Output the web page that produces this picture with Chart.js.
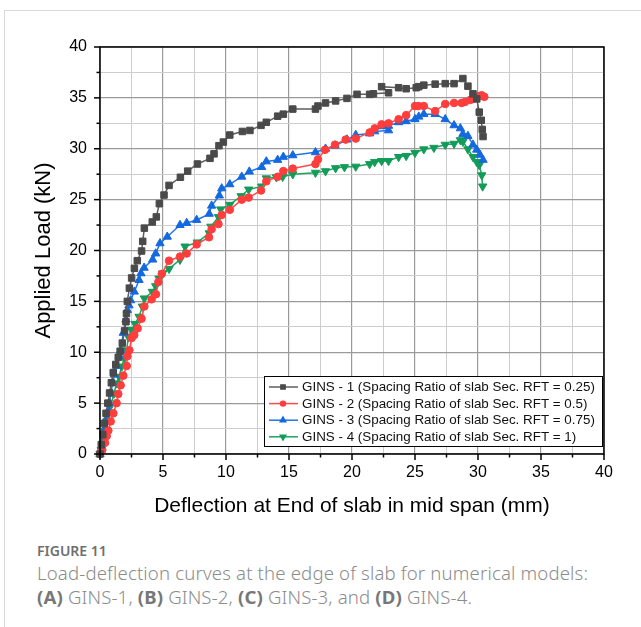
<!DOCTYPE html>
<html>
<head>
<meta charset="utf-8">
<script src="https://cdn.jsdelivr.net/npm/chart.js@4.4.1/dist/chart.umd.min.js"></script>
<style>
  html, body { margin: 0; padding: 0; background: #fff; }
  body { width: 641px; height: 627px; position: relative; overflow: hidden; }
  #card { position: absolute; left: 4px; top: 10px; width: 700px; height: 700px;
          border-left: 1px solid #d9d9d9; border-top: 1px solid #d9d9d9; }
  #wrap { position: absolute; left: 0; top: 0; width: 641px; height: 530px; }
  #cap { position: absolute; left: 37px; top: 541px; font-family: "Noto Sans", "Open Sans", sans-serif; }
  #cap .fig { font-size: 14px; font-weight: 600; color: #6f6f6f; line-height: 20px; }
  #cap .txt { font-size: 18.6px; font-weight: 300; color: #8c8c8c; line-height: 24px; letter-spacing: 0.15px; white-space: nowrap; }
  #cap b { color: #777; font-weight: 700; }
</style>
</head>
<body>
<div id="card"></div>
<div id="wrap"><canvas id="loadChart" width="641" height="530"></canvas></div>
<div id="cap">
  <div class="fig">FIGURE 11</div>
  <div class="txt">Load-deflection curves at the edge of slab for numerical models:<br><b>(A)</b> GINS-1, <b>(B)</b> GINS-2, <b>(C)</b> GINS-3, and <b>(D)</b> GINS-4.</div>
</div>
<script>
// Series labels
const seriesLabels = [
    "GINS - 1 (Spacing Ratio of slab Sec. RFT = 0.25)",
    "GINS - 2 (Spacing Ratio of slab Sec. RFT = 0.5)",
    "GINS - 3 (Spacing Ratio of slab Sec. RFT = 0.75)",
    "GINS - 4 (Spacing Ratio of slab Sec. RFT = 1)"
];

// Deflection (mm) and load (kN)
const gins1X = [0, 0.1, 0.22, 0.35, 0.48, 0.62, 0.76, 0.9, 1.05, 1.25, 1.45, 1.6, 1.77, 1.95, 2.06, 2.1, 2.17, 2.33, 2.51, 2.73, 2.96, 3.3, 3.39, 3.52, 4.15, 4.47, 4.71, 5.08, 5.48, 6.38, 6.96, 7.73, 8.73, 9.05, 9.44, 9.79, 10.3, 11.3, 11.9, 12.78, 13.2, 14.1, 14.55, 15.3, 17.1, 17.3, 17.9, 18.7, 19.6, 20.4, 21.4, 21.7, 22.9, 22.35, 23.7, 24.3, 25.1, 25.3, 25.7, 26.6, 27.4, 28.1, 28.8, 29.2, 29.6, 29.9, 30.1, 30.26, 30.34, 30.4];
const gins1Y = [0, 0.9, 1.9, 3.0, 4.0, 5.0, 6.0, 7.0, 8.0, 8.8, 9.5, 10.1, 10.9, 12.1, 13.0, 13.8, 15.0, 16.3, 17.3, 18.25, 19.0, 19.95, 20.9, 22.2, 22.8, 23.3, 24.6, 25.45, 26.4, 27.2, 27.8, 28.5, 29.06, 29.5, 30.3, 30.66, 31.35, 31.7, 31.8, 32.3, 32.6, 33.2, 33.4, 33.9, 33.9, 34.2, 34.5, 34.7, 34.95, 35.35, 35.35, 35.4, 35.5, 36.1, 36.0, 35.9, 36.0, 36.1, 36.25, 36.35, 36.4, 36.4, 36.9, 36.15, 35.4, 34.9, 33.6, 32.8, 31.9, 31.2];

const gins2X = [0, 0.18, 0.4, 0.53, 0.66, 0.85, 1.06, 1.32, 1.45, 1.64, 1.85, 2.12, 2.17, 2.33, 2.51, 2.72, 2.99, 3.3, 3.52, 4.1, 4.44, 4.63, 4.9, 5.48, 6.35, 6.88, 7.67, 8.65, 8.86, 9.4, 9.66, 10.3, 11.25, 11.8, 12.78, 13.2, 14.1, 14.55, 15.3, 17.1, 17.3, 17.86, 18.65, 19.5, 20.3, 21.4, 21.8, 22.35, 22.9, 23.7, 24.3, 25.0, 25.26, 25.7, 26.6, 27.4, 28.1, 28.7, 28.97, 29.4, 29.7, 29.95, 30.16, 30.3, 30.5];
const gins2Y = [0, 0.4, 1.1, 1.77, 2.3, 3.2, 4.0, 5.0, 5.9, 6.75, 7.7, 8.65, 9.6, 10.2, 11.4, 11.7, 12.35, 13.3, 14.5, 15.2, 15.7, 16.9, 17.7, 19.0, 19.4, 19.7, 20.6, 21.3, 22.1, 22.6, 23.5, 24.0, 25.0, 25.2, 25.9, 26.8, 27.25, 27.8, 28.05, 28.5, 28.96, 29.9, 30.4, 30.9, 31.0, 31.6, 32.0, 32.4, 32.5, 32.9, 33.3, 34.2, 34.2, 34.2, 33.7, 34.4, 34.5, 34.5, 34.6, 34.8, 34.95, 35.1, 35.2, 35.25, 35.1];

const gins3X = [0, 0.13, 0.26, 0.32, 0.48, 0.66, 0.74, 0.87, 1.0, 1.15, 1.32, 1.53, 1.64, 1.85, 2.06, 2.17, 2.3, 2.43, 2.72, 3.1, 3.25, 3.5, 4.18, 4.42, 4.76, 5.34, 6.35, 6.88, 7.67, 8.67, 8.86, 9.47, 9.66, 10.3, 11.25, 11.85, 12.83, 13.2, 14.1, 14.55, 15.3, 17.1, 17.9, 18.65, 19.6, 20.3, 21.4, 21.8, 22.9, 22.35, 22.9, 23.7, 24.3, 25.0, 25.3, 25.7, 26.6, 27.4, 28.1, 28.6, 28.8, 29.2, 29.6, 29.9, 30.16, 30.4];
const gins3Y = [0, 0.7, 1.5, 2.36, 3.4, 4.3, 5.0, 6.0, 7.0, 7.8, 8.65, 9.6, 10.2, 11.9, 13.2, 14.15, 14.6, 15.1, 15.95, 17.1, 17.75, 18.3, 19.1, 19.7, 20.7, 21.35, 22.5, 22.7, 23.0, 23.6, 24.4, 25.4, 26.1, 26.5, 27.25, 27.75, 28.2, 28.75, 28.9, 29.2, 29.35, 29.65, 30.0, 30.3, 30.9, 31.35, 31.5, 31.7, 31.8, 32.2, 32.25, 32.6, 32.7, 32.9, 33.15, 33.4, 33.4, 32.9, 32.3, 32.0, 31.45, 31.25, 30.4, 29.9, 29.4, 28.9];

const gins4X = [0, 0.1, 0.18, 0.32, 0.4, 0.53, 0.71, 0.87, 1.11, 1.32, 1.51, 1.72, 1.93, 2.12, 2.25, 2.5, 2.78, 3.1, 3.36, 3.52, 4.15, 4.42, 4.68, 4.97, 5.48, 6.35, 6.75, 7.72, 8.67, 8.8, 9.4, 9.58, 10.3, 11.2, 11.8, 12.83, 13.2, 14.0, 14.5, 15.3, 17.1, 17.9, 18.7, 19.4, 20.3, 21.4, 21.8, 22.35, 22.9, 23.7, 24.3, 25.0, 25.7, 26.5, 27.4, 28.1, 28.6, 28.8, 29.2, 29.6, 29.9, 30.1, 30.3, 30.37];
const gins4Y = [0, 0.4, 1.0, 1.7, 2.3, 3.2, 4.0, 4.8, 5.95, 6.95, 7.6, 8.6, 9.4, 10.2, 11.5, 12.2, 12.8, 13.5, 14.5, 15.3, 15.95, 16.5, 17.25, 17.75, 18.2, 19.1, 20.4, 20.8, 21.7, 22.35, 23.3, 24.05, 24.5, 25.35, 26.0, 26.3, 27.1, 27.2, 27.25, 27.5, 27.65, 27.8, 28.1, 28.2, 28.25, 28.5, 28.7, 28.8, 28.8, 29.2, 29.3, 29.6, 29.95, 30.1, 30.4, 30.5, 30.85, 30.7, 29.95, 29.2, 28.7, 28.4, 27.4, 26.3];

// Axis ticks
const axisMin = 0;
const axisMax = 40;
const majorStep = 5;
const minorStep = 2.5;

function toPoints(xs, ys) {
    return xs.map((x, i) => ({ x: x, y: ys[i] }));
}

const FONT = "'Liberation Sans', Arial, sans-serif";
const isMajor = v => Math.abs(v / majorStep - Math.round(v / majorStep)) < 1e-6;

// Border on all four sides plus outward tick marks
const framePlugin = {
    id: "frame",
    afterDatasetsDraw(chart) {
        const { ctx, chartArea: a, scales } = chart;
        ctx.save();
        ctx.strokeStyle = "#000";
        ctx.lineWidth = 1.5;
        ctx.beginPath();
        ctx.rect(a.left, a.top, a.right - a.left, a.bottom - a.top);
        ctx.stroke();
        scales.x.ticks.forEach(t => {
            const px = scales.x.getPixelForValue(t.value);
            const len = isMajor(t.value) ? 6 : 3.5;
            ctx.beginPath();
            ctx.moveTo(px, a.bottom);
            ctx.lineTo(px, a.bottom + len);
            ctx.stroke();
        });
        scales.y.ticks.forEach(t => {
            const py = scales.y.getPixelForValue(t.value);
            const len = isMajor(t.value) ? 6 : 3.5;
            ctx.beginPath();
            ctx.moveTo(a.left, py);
            ctx.lineTo(a.left - len, py);
            ctx.stroke();
        });
        ctx.restore();
    }
};

// Legend box inside the plot, lower right
const legendPlugin = {
    id: "boxLegend",
    afterDraw(chart) {
        const { ctx, chartArea: a } = chart;
        const bx = a.left + 164, by = a.top + 329, bw = 338, bh = 70;
        ctx.save();
        ctx.fillStyle = "#fff";
        ctx.fillRect(bx, by, bw, bh);
        ctx.strokeStyle = "#000";
        ctx.lineWidth = 1;
        ctx.strokeRect(bx + 0.5, by + 0.5, bw, bh);
        ctx.font = "13.4px " + FONT;
        ctx.textBaseline = "middle";
        chart.data.datasets.forEach((ds, i) => {
            const y = by + 11 + i * 16.6;
            ctx.strokeStyle = ds.borderColor;
            ctx.lineWidth = 1.5;
            ctx.beginPath();
            ctx.moveTo(bx + 5, y);
            ctx.lineTo(bx + 34, y);
            ctx.stroke();
            ctx.fillStyle = ds.pointBackgroundColor;
            ctx.strokeStyle = ds.pointBackgroundColor;
            Chart.helpers.drawPoint(ctx, {
                pointStyle: ds.pointStyle, radius: ds.pointRadius * 0.65,
                rotation: ds.pointRotation || 0, borderWidth: 1
            }, bx + 19, y);
            ctx.fillStyle = "#111";
            ctx.fillText(ds.label, bx + 38, y + 0.5);
        });
        ctx.restore();
    }
};

function series(label, xs, ys, line, mark, style, radius, rotation) {
    return {
        label: label,
        data: toPoints(xs, ys),
        showLine: true,
        borderColor: line,
        borderWidth: 1.5,
        pointStyle: style,
        pointRadius: radius,
        pointRotation: rotation,
        pointBackgroundColor: mark,
        pointBorderColor: mark,
        pointBorderWidth: 1,
        tension: 0,
        clip: false
    };
}

const ctx = document.getElementById("loadChart").getContext("2d");
const loadChart = new Chart(ctx, {
    type: "scatter",
    data: {
        datasets: [
            series(seriesLabels[0], gins1X, gins1Y, "#5e5e5e", "#4a4a4a", "rect", 4.6, 0),
            series(seriesLabels[1], gins2X, gins2Y, "#ff4a4a", "#ff3d3d", "circle", 3.8, 0),
            series(seriesLabels[2], gins3X, gins3Y, "#1f74e8", "#1468e0", "triangle", 4.8, 0),
            series(seriesLabels[3], gins4X, gins4Y, "#1ca463", "#139c58", "triangle", 4.8, 180)
        ]
    },
    options: {
        responsive: false,
        animation: false,
        events: [],
        layout: { padding: { top: 47, right: 37, left: 0, bottom: 0 } },
        plugins: { legend: { display: false }, tooltip: { enabled: false } },
        scales: {
            x: {
                type: "linear",
                min: axisMin, max: axisMax,
                afterFit: s => { s.height = 76; },
                ticks: {
                    stepSize: minorStep,
                    autoSkip: false,
                    maxRotation: 0,
                    padding: 9,
                    color: "#000",
                    font: { family: FONT, size: 16 },
                    callback: v => isMajor(v) ? v : ""
                },
                grid: {
                    drawTicks: false,
                    color: c => isMajor(c.tick.value) ? "#9a9a9a" : "#cdcdcd",
                    lineWidth: c => isMajor(c.tick.value) ? 1.2 : 1,
                    borderDash: c => isMajor(c.tick.value) ? [] : [2, 3]
                },
                border: { display: false },
                title: {
                    display: true,
                    text: "Deflection at End of slab in mid span (mm)",
                    color: "#000",
                    font: { family: FONT, size: 21 },
                    padding: { top: 0, bottom: 11 }
                }
            },
            y: {
                type: "linear",
                min: axisMin, max: axisMax,
                afterFit: s => { s.width = 100; },
                ticks: {
                    stepSize: minorStep,
                    autoSkip: false,
                    padding: 13,
                    color: "#000",
                    font: { family: FONT, size: 16 },
                    callback: v => isMajor(v) ? v : ""
                },
                grid: {
                    drawTicks: false,
                    color: c => isMajor(c.tick.value) ? "#9a9a9a" : "#cdcdcd",
                    lineWidth: c => isMajor(c.tick.value) ? 1.2 : 1,
                    borderDash: c => isMajor(c.tick.value) ? [] : [2, 3]
                },
                border: { display: false },
                title: {
                    display: true,
                    text: "Applied Load (kN)",
                    color: "#000",
                    font: { family: FONT, size: 22 },
                    padding: { top: 31, bottom: 0 }
                }
            }
        }
    },
    plugins: [framePlugin, legendPlugin]
});
</script>
</body>
</html>
